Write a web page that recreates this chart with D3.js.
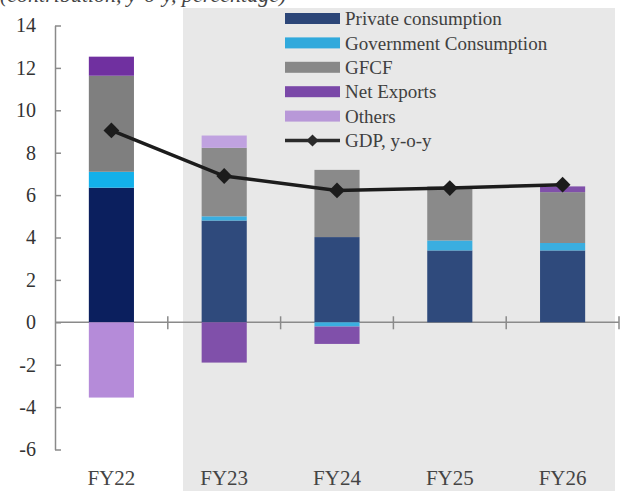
<!DOCTYPE html>
<html>
<head>
<meta charset="utf-8">
<script src="https://cdn.jsdelivr.net/npm/d3@7/dist/d3.min.js"></script>
<style>
  html, body { margin: 0; padding: 0; background: #fff; }
  svg { display: block; }
</style>
</head>
<body>
<svg id="chart" width="620" height="491"></svg>
<script>
// ---- data ----
const categories = ["FY22", "FY23", "FY24", "FY25", "FY26"];
const seriesNames = ["Private consumption", "Government Consumption", "GFCF", "Net Exports", "Others"];
const privateConsumption = [6.35, 4.80, 4.02, 3.39, 3.39];
const govConsumption     = [0.75, 0.20, -0.20, 0.47, 0.35];
const gfcf               = [4.53, 3.23, 3.17, 2.55, 2.40];
const netExports         = [0.90, -1.90, -0.82, 0.00, 0.27];
const others             = [-3.55, 0.58, 0.00, 0.00, 0.00];
const gdpYoY             = [9.05, 6.90, 6.22, 6.33, 6.49];
const yTicks = [-6, -4, -2, 0, 2, 4, 6, 8, 10, 12, 14];
const lineName = "GDP, y-o-y";
const titleText = "(contribution, y-o-y, percentage)";

// ---- styles ----
const colorsActual = ["#0b1f5e", "#13b0ea", "#7f7f7f", "#7030a0", "#b58bd9"];
const colorsShaded = ["#2f4a7c", "#3aaee0", "#8a8a8a", "#8050aa", "#c0a2e0"];
const colorsLegend = ["#2c4678", "#30a9dc", "#888888", "#7a48a8", "#b898d8"];
const font = "'Liberation Serif', 'Times New Roman', serif";

const svg = d3.select("#chart");

const y = d3.scaleLinear().domain([-6, 14]).range([449.5, 25.5]);
const x = d3.scaleBand().domain(categories).range([55, 619]).paddingInner(0.6).paddingOuter(0.3);
const xStep = d3.scaleBand().domain(categories).range([55, 619]).padding(0);

// title (partially cut off at the top, as in the source)
svg.append("text")
  .attr("x", 0).attr("y", 1.5)
  .attr("font-family", font).attr("font-style", "italic")
  .attr("font-size", 22).attr("fill", "#444")
  .text(titleText);

// shaded forecast panel
svg.append("rect")
  .attr("x", 183).attr("y", 8).attr("width", 432).attr("height", 483)
  .attr("fill", "#e8e8e8");

// y axis
const yAxis = d3.axisLeft(y).tickValues(yTicks).tickFormat(d => String(d))
  .tickSizeInner(-6).tickSizeOuter(0).tickPadding(19);
const gy = svg.append("g").attr("transform", "translate(55,0)").call(yAxis);
gy.select(".domain").attr("stroke", "#8a8a8a").attr("stroke-width", 1.5);
gy.selectAll(".tick line").attr("stroke", "#8a8a8a").attr("stroke-width", 1.5);
gy.selectAll(".tick text").attr("font-family", font).attr("font-size", 20).attr("fill", "#333");

// zero line with category boundary ticks
const zeroY = y(0);
svg.append("line")
  .attr("x1", 55).attr("x2", 619).attr("y1", zeroY).attr("y2", zeroY)
  .attr("stroke", "#8a8a8a").attr("stroke-width", 1.5);
svg.selectAll("line.btick").data(categories).enter().append("line")
  .attr("class", "btick")
  .attr("x1", d => xStep(d) + xStep.bandwidth()).attr("x2", d => xStep(d) + xStep.bandwidth())
  .attr("y1", zeroY - 6).attr("y2", zeroY + 7)
  .attr("stroke", "#8a8a8a").attr("stroke-width", 1.5);

// stacked bars
const rows = categories.map((c, i) => ({
  cat: c, idx: i,
  s0: privateConsumption[i], s1: govConsumption[i], s2: gfcf[i], s3: netExports[i], s4: others[i]
}));
const stack = d3.stack().keys(["s0", "s1", "s2", "s3", "s4"]).offset(d3.stackOffsetDiverging);
const stacked = stack(rows);

stacked.forEach((layer, k) => {
  svg.append("g").selectAll("rect").data(layer).enter().append("rect")
    .attr("x", d => x(d.data.cat))
    .attr("width", x.bandwidth())
    .attr("y", d => y(Math.max(d[0], d[1])))
    .attr("height", d => Math.abs(y(d[0]) - y(d[1])))
    .attr("fill", d => d.data.idx === 0 ? colorsActual[k] : colorsShaded[k]);
});

// GDP line
const line = d3.line().x((d, i) => x(categories[i]) + x.bandwidth() / 2).y(d => y(d));
svg.append("path").datum(gdpYoY)
  .attr("d", line).attr("fill", "none")
  .attr("stroke", "#1c1c1c").attr("stroke-width", 3.5);
const diamond = d3.symbol().type(d3.symbolSquare).size(125);
svg.selectAll("path.mk").data(gdpYoY).enter().append("path")
  .attr("class", "mk")
  .attr("d", diamond)
  .attr("transform", (d, i) => `translate(${x(categories[i]) + x.bandwidth() / 2},${y(d)}) rotate(45)`)
  .attr("fill", "#1c1c1c");

// category labels
const xAxis = d3.axisBottom(x).tickSize(0).tickPadding(0);
const gx = svg.append("g").attr("transform", "translate(0,470)").call(xAxis);
gx.select(".domain").remove();
gx.selectAll(".tick text").attr("font-family", font).attr("font-size", 21).attr("fill", "#444").attr("dy", "0.71em");

// legend
const lg = svg.append("g");
const rowH = 24.4, ly0 = 18.5;
seriesNames.forEach((name, k) => {
  const cy = ly0 + k * rowH;
  lg.append("rect").attr("x", 285).attr("y", cy - 5.5).attr("width", 55).attr("height", 11)
    .attr("fill", colorsLegend[k]);
  lg.append("text").attr("x", 345).attr("y", cy).attr("dy", "0.35em")
    .attr("font-family", font).attr("font-size", 19).attr("fill", "#404040").text(name);
});
{
  const cy = ly0 + 5 * rowH;
  lg.append("line").attr("x1", 285).attr("x2", 340).attr("y1", cy).attr("y2", cy)
    .attr("stroke", "#2a2a2a").attr("stroke-width", 3.5);
  lg.append("path").attr("d", d3.symbol().type(d3.symbolSquare).size(75))
    .attr("transform", `translate(312.5,${cy}) rotate(45)`).attr("fill", "#2a2a2a");
  lg.append("text").attr("x", 345).attr("y", cy).attr("dy", "0.35em")
    .attr("font-family", font).attr("font-size", 19).attr("fill", "#404040").text(lineName);
}
</script>
</body>
</html>
